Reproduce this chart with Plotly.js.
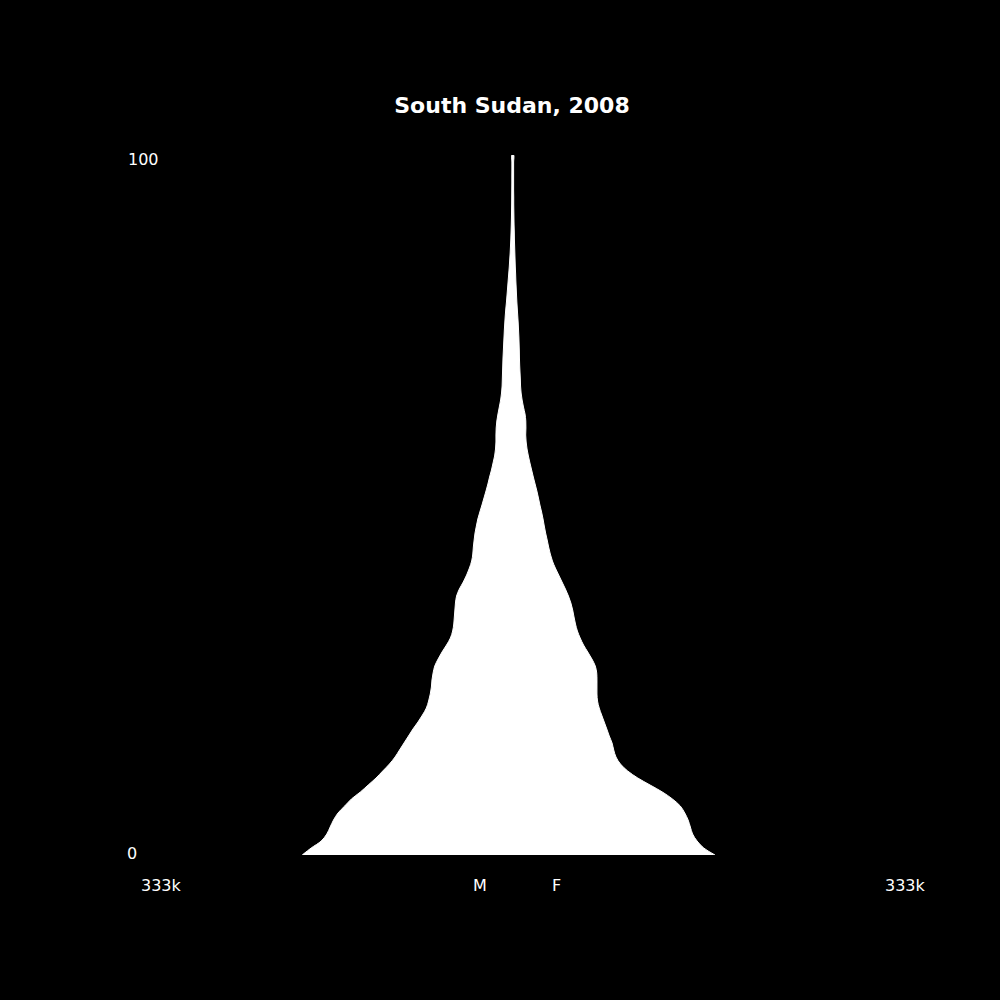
<!DOCTYPE html>
<html>
<head>
<meta charset="utf-8">
<script src="https://cdn.plot.ly/plotly-3.0.1.min.js"></script>
<style>
  html, body { margin: 0; padding: 0; background: #000; }
  #chart { width: 1000px; height: 1000px; }
</style>
</head>
<body>
<div id="chart"></div>
<script>
// population by single year of age, thousands
var ages = Array.from( { length: 101 }, ( v, i ) => i );

var males = [
    188, 180, 171, 166, 163, 160, 156, 150, 144, 136,
    129, 122, 116, 110, 105, 101, 97, 93, 89, 84.5,
    80.5, 77, 75, 73.5, 72.5, 72, 71, 69.5, 66.5, 63,
    59, 55.5, 53.5, 52.5, 52, 51.5, 51, 50, 47.5, 44,
    41, 38.5, 36.5, 35.5, 35, 34.3, 33.5, 32.3, 31, 29.2,
    27.3, 25.5, 23.7, 22, 20.5, 18.8, 17.4, 16, 15.2, 14.8,
    14.8, 14.6, 14, 13, 11.8, 10.6, 9.8, 9.3, 9.1, 8.9,
    8.7, 8.5, 8.2, 7.9, 7.6, 7.3, 6.9, 6.5, 6, 5.4,
    4.9, 4.4, 3.9, 3.4, 2.9, 2.5, 2.1, 1.8, 1.5, 1.3,
    1.1, 0.95, 0.85, 0.75, 0.7, 0.65, 0.6, 0.6, 0.55, 0.55, 0.5
];

var females = [
    181, 171, 165, 161, 159, 157, 154, 150, 143, 134,
    123, 112, 103, 96.5, 92.5, 90.5, 89, 86.5, 84.3, 82,
    79.7, 77.5, 76, 75.5, 75.5, 75.5, 75.3, 74, 71, 67.3,
    63.5, 60.5, 58, 56.3, 55, 53.8, 52.2, 50, 47.3, 44.3,
    41.3, 38.3, 35.7, 33.8, 32.3, 31, 29.6, 28.4, 27.3, 26,
    24.5, 23.2, 21.8, 20.2, 18.6, 17.1, 15.6, 14.2, 13, 12.2,
    11.8, 12, 11.9, 11.2, 9.8, 8.6, 7.7, 7.2, 7, 6.7,
    6.4, 6.2, 6.1, 5.9, 5.7, 5.4, 5.1, 4.7, 4.3, 3.9,
    3.6, 3.3, 3, 2.8, 2.5, 2.3, 2.1, 1.9, 1.7, 1.6,
    1.4, 1.3, 1.2, 1.1, 1.1, 1, 1, 1, 1, 1, 1
];

var xMax = 333;
var sideLabel = '333k';
var ageLabels = [ '0', '100' ];
var sexLabels = [ 'M', 'F' ];

// plot box in pixels, used to place the loose labels
var L = 140, R = 115, T = 155, B = 145;
var W = 1000 - L - R, H = 1000 - T - B;

function px( x ) { return ( x - L ) / W; }
function py( y ) { return ( 1000 - B - y ) / H; }

function label( text, x, y, anchor ) {
    return {
        text: text, xref: 'paper', yref: 'paper',
        x: px( x ), y: py( y ), xanchor: anchor, yanchor: 'middle',
        showarrow: false, font: { color: '#fff', size: 16 }
    };
}

// one closed outline: males up the left side, females back down the right
var outlineX = males.map( v => -v ).concat( females.slice().reverse() );
var outlineY = ages.concat( ages.slice().reverse() );

var pyramid = {
    x: outlineX,
    y: outlineY,
    type: 'scatter',
    mode: 'lines',
    fill: 'toself',
    fillcolor: '#fff',
    line: { color: '#fff', width: 1, shape: 'spline', smoothing: 1 },
    hoverinfo: 'skip',
    showlegend: false
};

var layout = {
    width: 1000,
    height: 1000,
    paper_bgcolor: '#000',
    plot_bgcolor: '#000',
    font: { family: 'DejaVu Sans', color: '#fff' },
    margin: { l: L, r: R, t: T, b: B },
    title: {
        text: '<b>South Sudan, 2008</b>',
        x: 0.512, xanchor: 'center',
        y: 0.895, yanchor: 'middle',
        font: { size: 22, color: '#fff' }
    },
    xaxis: {
        range: [ -xMax, xMax ],
        showgrid: false, zeroline: false, showticklabels: false, showline: false
    },
    yaxis: {
        range: [ 0, 100 ],
        showgrid: false, zeroline: false, showticklabels: false, showline: false
    },
    annotations: [
        label( ageLabels[ 0 ], 125, 853, 'left' ),
        label( ageLabels[ 1 ], 126, 160, 'left' ),
        label( sideLabel, 161, 885, 'center' ),
        label( sideLabel, 905, 885, 'center' ),
        label( sexLabels[ 0 ], 480, 885, 'center' ),
        label( sexLabels[ 1 ], 556, 885, 'center' )
    ]
};

Plotly.newPlot( 'chart', [ pyramid ], layout, { staticPlot: true } );
</script>
</body>
</html>
